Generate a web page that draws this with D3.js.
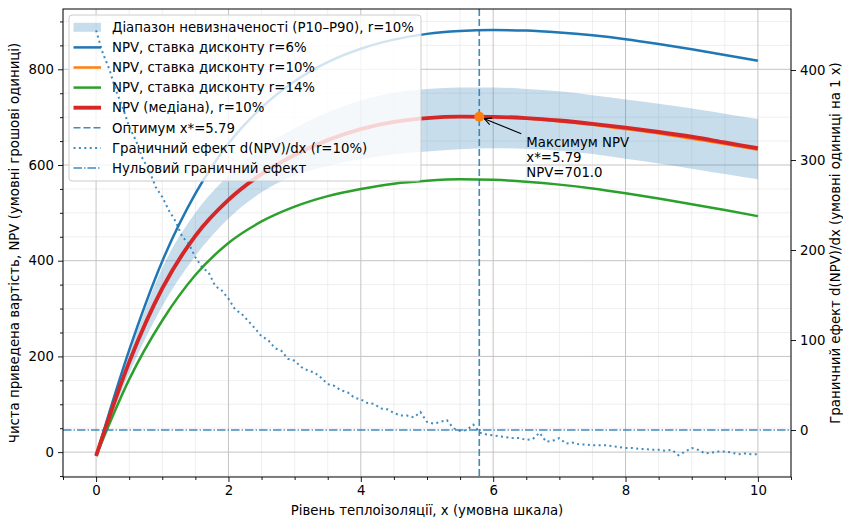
<!DOCTYPE html>
<html>
<head>
<meta charset="utf-8">
<script src="https://cdn.jsdelivr.net/npm/d3@7"></script>
<style>
  body { margin: 0; background: #fff; }
  text { font-family: "DejaVu Sans", sans-serif; fill: #000; }
</style>
</head>
<body>
<div id="chart"></div>
<script>
// values
const xs = [0, 0.5, 1, 1.5, 2, 2.5, 3, 3.5, 4, 4.5, 5, 5.5, 6, 6.5, 7, 7.5, 8, 8.5, 9, 9.5, 10];
const npv6 = [-8, 213, 399, 540, 645, 720, 775, 815, 843, 862, 874, 880, 882, 881, 877, 871, 863, 853, 842, 830, 818];
const npv10 = [-8, 188, 342, 452, 527, 581, 621, 652, 675, 690, 698, 701, 700.5, 697, 691, 684, 675, 666, 655, 644, 632];
const npv14 = [-8, 152, 275, 370, 437, 482, 513, 535, 550, 561, 567, 570, 569, 565, 559, 551, 541, 530, 518, 506, 493];
const npvMedian = [-8, 188, 342, 452, 527, 581, 621, 652, 675, 690, 698, 701, 700.5, 698, 693, 686, 678, 669, 659, 647, 635];
const bandLow = [-8, 165, 305, 410, 488, 543, 578, 598, 612, 622, 628, 633, 635, 634, 630, 623, 613, 603, 592, 581, 570];
const bandHigh = [-8, 205, 385, 500, 578, 635, 677, 710, 735, 751, 759, 762, 762, 759, 754, 746, 737, 728, 718, 707, 696];

// marginal effect d(NPV)/dx, sampled every 0.1 on x
const marginal = [
  444, 419, 401, 377, 359, 337, 322, 302, 289, 270,
  259, 244, 232, 215, 207, 192, 181, 175, 160, 155,
  146, 134, 129, 121, 113, 104, 100, 91, 88, 79,
  77, 70, 66, 64, 58, 51, 49, 44, 42, 36,
  34, 30, 29, 24, 23, 19, 16, 16, 14, 20,
  9, 7, 9, 11, 2, -1, 0, 6, -3, -5,
  -6, -7, -8, -9, -9, -11, -10, -3, -13, -12,
  -9, -15, -14, -16, -16, -17, -17, -17, -18, -19,
  -20, -20, -21, -21, -22, -22, -23, -22, -28, -24,
  -20, -22, -26, -25, -24, -24, -25, -27, -26, -27, -27
];
const marginalX = d3.range(marginal.length).map(i => i / 10);

const xOpt = 5.79;
const npvOpt = 701.0;

const xTicks = [0, 2, 4, 6, 8, 10];
const yTicks = [0, 200, 400, 600, 800];
const y2Ticks = [0, 100, 200, 300, 400];

const legendLabels = [
  "Діапазон невизначеності (P10–P90), r=10%",
  "NPV, ставка дисконту r=6%",
  "NPV, ставка дисконту r=10%",
  "NPV, ставка дисконту r=14%",
  "NPV (медіана), r=10%",
  "Оптимум x*=5.79",
  "Граничний ефект d(NPV)/dx (r=10%)",
  "Нульовий граничний ефект"
];

const W = 843, H = 518;
const margin = { top: 9, right: 52, bottom: 41, left: 63 };
const fs = "13.3px";
const blue = "#1f77b4", orange = "#ff7f0e", green = "#2ca02c", red = "#d62728";

const svg = d3.select("#chart").append("svg")
    .attr("width", W)
    .attr("height", H);

const x = d3.scaleLinear().domain([-0.5, 10.5]).range([margin.left, W - margin.right]);
const y = d3.scaleLinear().domain([-52, 926]).range([H - margin.bottom, margin.top]);
const y2 = d3.scaleLinear().domain([-52.2, 467.8]).range([H - margin.bottom, margin.top]);

const pTop = margin.top, pBottom = H - margin.bottom, pLeft = margin.left, pRight = W - margin.right;

// grid
const grid = svg.append("g");
const xMinor = d3.range(-1, 22).map(i => i / 2).filter(v => v % 2 !== 0);
const yMinor = d3.range(-1, 19).map(i => i * 50).filter(v => v % 200 !== 0);
grid.selectAll(".xm").data(xMinor).enter().append("line")
    .attr("x1", d => x(d)).attr("x2", d => x(d)).attr("y1", pTop).attr("y2", pBottom)
    .attr("stroke", "#ebebeb").attr("stroke-width", 0.8);
grid.selectAll(".ym").data(yMinor).enter().append("line")
    .attr("y1", d => y(d)).attr("y2", d => y(d)).attr("x1", pLeft).attr("x2", pRight)
    .attr("stroke", "#ebebeb").attr("stroke-width", 0.8);
grid.selectAll(".xM").data(xTicks).enter().append("line")
    .attr("x1", d => x(d)).attr("x2", d => x(d)).attr("y1", pTop).attr("y2", pBottom)
    .attr("stroke", "#c4c4c4").attr("stroke-width", 1);
grid.selectAll(".yM").data(yTicks).enter().append("line")
    .attr("y1", d => y(d)).attr("y2", d => y(d)).attr("x1", pLeft).attr("x2", pRight)
    .attr("stroke", "#c4c4c4").attr("stroke-width", 1);

const plot = svg.append("g");

// uncertainty band
const area = d3.area()
    .x((d, i) => x(xs[i]))
    .y0((d, i) => y(bandLow[i]))
    .y1((d, i) => y(bandHigh[i]))
    .curve(d3.curveMonotoneX);
plot.append("path").datum(xs).attr("d", area)
    .attr("fill", blue).attr("fill-opacity", 0.25);

const line = d3.line()
    .x((d, i) => x(xs[i]))
    .y(d => y(d))
    .curve(d3.curveMonotoneX);

[[npv6, blue, 2.5], [npv10, orange, 2.5], [npv14, green, 2.5], [npvMedian, red, 3.9]].forEach(([vals, c, w]) => {
  plot.append("path").datum(vals).attr("d", line)
      .attr("fill", "none").attr("stroke", c).attr("stroke-width", w);
});

// optimum line
plot.append("line")
    .attr("x1", x(xOpt)).attr("x2", x(xOpt)).attr("y1", pTop).attr("y2", pBottom)
    .attr("stroke", blue).attr("stroke-width", 1.6).attr("stroke-dasharray", "7,3")
    .attr("opacity", 0.85);

// annotation
const ax = x(xOpt), ay = y(npvOpt);
const tailX = ax + 42, tailY = ay + 17;
const headX = ax + 5, headY = ay + 2;
plot.append("line")
    .attr("x1", tailX).attr("y1", tailY).attr("x2", headX).attr("y2", headY)
    .attr("stroke", "#000").attr("stroke-width", 1.1);
const ang = Math.atan2(headY - tailY, headX - tailX);
[0.45, -0.45].forEach(da => {
  plot.append("line")
      .attr("x1", headX).attr("y1", headY)
      .attr("x2", headX - 8 * Math.cos(ang + da)).attr("y2", headY - 8 * Math.sin(ang + da))
      .attr("stroke", "#000").attr("stroke-width", 1.1);
});
plot.append("circle").attr("cx", ax).attr("cy", ay).attr("r", 5).attr("fill", orange);

const ann = plot.append("text").attr("x", ax + 47).attr("y", ay + 30).style("font-size", fs);
["Максимум NPV", "x*=" + xOpt.toFixed(2), "NPV=" + npvOpt.toFixed(1)].forEach((t, i) => {
  ann.append("tspan").attr("x", ax + 47).attr("dy", i === 0 ? 0 : 15).text(t);
});

// legend
const lg = svg.append("g");
lg.append("rect")
    .attr("x", 69).attr("y", 15).attr("width", 352).attr("height", 166).attr("rx", 3)
    .attr("fill", "#fff").attr("fill-opacity", 0.8)
    .attr("stroke", "#cccccc").attr("stroke-width", 1);
const rowY = i => 27.3 + i * 20.1;
const hx1 = 73.5, hx2 = 101;
lg.append("rect").attr("x", hx1).attr("y", rowY(0) - 4.5).attr("width", hx2 - hx1).attr("height", 9)
    .attr("fill", blue).attr("fill-opacity", 0.25);
const handleStyles = [
  null,
  [blue, 2.5, null],
  [orange, 2.5, null],
  [green, 2.5, null],
  [red, 3.9, null],
  [blue, 1.6, "7,3"],
  [blue, 2, "2,3.4"],
  [blue, 1.3, "8.5,2.1,1.3,2.1"]
];
handleStyles.forEach((s, i) => {
  if (!s) return;
  lg.append("line").attr("x1", hx1).attr("x2", hx2).attr("y1", rowY(i)).attr("y2", rowY(i))
      .attr("stroke", s[0]).attr("stroke-width", s[1])
      .attr("stroke-dasharray", s[2])
      .attr("opacity", i >= 5 ? 0.85 : 1);
});
lg.selectAll(".lt").data(legendLabels).enter().append("text")
    .attr("x", 112).attr("y", (d, i) => rowY(i)).attr("dy", "0.36em")
    .style("font-size", fs).text(d => d);

// twin axis content: marginal effect and zero line
const twin = svg.append("g");
const dline = d3.line().x((d, i) => x(marginalX[i])).y(d => y2(d));
twin.append("path").datum(marginal).attr("d", dline)
    .attr("fill", "none").attr("stroke", blue).attr("stroke-width", 2)
    .attr("stroke-dasharray", "2,3.4").attr("opacity", 0.85);
twin.append("line")
    .attr("x1", pLeft).attr("x2", pRight).attr("y1", y2(0)).attr("y2", y2(0))
    .attr("stroke", blue).attr("stroke-width", 1.3).attr("stroke-dasharray", "8.5,2.1,1.3,2.1")
    .attr("opacity", 0.85);

// axes
svg.append("g").attr("transform", `translate(0,${pBottom})`)
    .call(d3.axisBottom(x).tickValues(xTicks).tickFormat(d3.format("d")).tickSize(5).tickPadding(4));
svg.append("g").attr("transform", `translate(0,${pBottom})`)
    .call(d3.axisBottom(x).tickValues(xMinor.filter(v => v >= -0.5 && v <= 10.5)).tickFormat("").tickSize(3));
svg.append("g").attr("transform", `translate(${pLeft},0)`)
    .call(d3.axisLeft(y).tickValues(yTicks).tickFormat(d3.format("d")).tickSize(5).tickPadding(4));
svg.append("g").attr("transform", `translate(${pLeft},0)`)
    .call(d3.axisLeft(y).tickValues(yMinor).tickFormat("").tickSize(3));
svg.append("g").attr("transform", `translate(${pRight},0)`)
    .call(d3.axisRight(y2).tickValues(y2Ticks).tickFormat(d3.format("d")).tickSize(5).tickPadding(4));
svg.selectAll(".domain").remove();
svg.selectAll(".tick line").attr("stroke", "#000").attr("stroke-width", 0.9);
svg.selectAll(".tick text").style("font-size", fs).style("font-family", "DejaVu Sans").attr("fill", "#000");

svg.append("rect").attr("x", pLeft).attr("y", pTop).attr("width", pRight - pLeft).attr("height", pBottom - pTop)
    .attr("fill", "none").attr("stroke", "#000").attr("stroke-width", 1);

// axis titles
svg.append("text").attr("x", (pLeft + pRight) / 2).attr("y", 515).attr("text-anchor", "middle")
    .style("font-size", fs).text("Рівень теплоізоляції, x (умовна шкала)");
svg.append("text").attr("transform", `translate(19,${(pTop + pBottom) / 2}) rotate(-90)`)
    .attr("text-anchor", "middle").style("font-size", fs)
    .text("Чиста приведена вартість, NPV (умовні грошові одиниці)");
svg.append("text").attr("transform", `translate(840,${(pTop + pBottom) / 2}) rotate(-90)`)
    .attr("text-anchor", "middle").style("font-size", fs)
    .text("Граничний ефект d(NPV)/dx (умовні одиниці на 1 x)");
</script>
</body>
</html>
